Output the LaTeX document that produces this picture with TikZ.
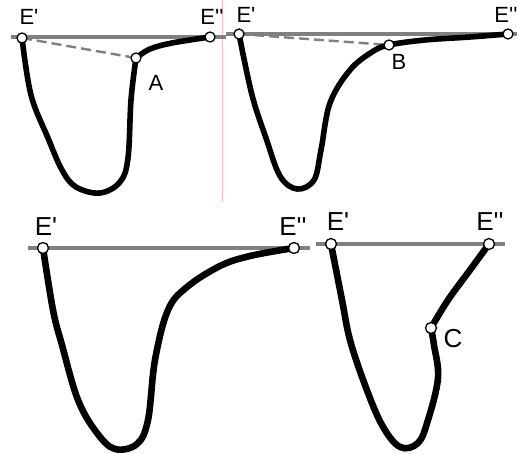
\documentclass[tikz,border=0pt]{standalone}
\usepackage{fontspec}
\newfontfamily\labfont{Liberation Sans}
\definecolor{axisgray}{RGB}{128,128,128}
\definecolor{guidepink}{RGB}{250,190,190}
\tikzset{
  axis/.style={draw=axisgray,line width=3.2pt},
  axisbig/.style={axis,line width=4pt},
  chord/.style={draw=axisgray,line width=2.4pt,dash pattern=on 10pt off 5pt},
  wave/.style={draw=black,line width=5.6pt,line cap=round,line join=round},
  wavebig/.style={wave,line width=6.6pt},
  pt/.style={circle,draw=black,fill=white,line width=1.3pt,inner sep=0pt,minimum size=10pt},
  lab/.style={font=\labfont\fontsize{22}{22}\selectfont,inner sep=0pt},
  labbig/.style={font=\labfont\fontsize{26}{26}\selectfont,inner sep=0pt}
}
\begin{document}
\begin{tikzpicture}[x=1pt,y=-1pt]
	\useasboundingbox (0,0) rectangle (517,454);
	% top left
	\coordinate (P1E1) at (22,38);
	\coordinate (P1E2) at (210,37);
	\coordinate (P1A) at (136,58);
	\draw[guidepink,line width=0.7pt] (222,0)--(222,202);
	\draw[axis] (11,37)--(226,37);
	\draw[chord] (P1E1)--(P1A);
	\draw[wave] plot[smooth,tension=0.6] coordinates {(P1E1) (31,95) (48,138) (62,170) (76,187) (100,193) (120,182) (128,158) (131,100) (P1A)};
	\draw[wave] plot[smooth,tension=0.6] coordinates {(P1A) (150,49) (172,43) (P1E2)};
	\foreach \P in {P1E1,P1E2,P1A} \node[pt] at (\P) {};
	\node[lab] (l1E1) at (29,17) {E'};
	\node[lab] (l1E2) at (212,17) {E''};
	\node[lab] (l1A) at (156,83) {A};
	% top right
	\coordinate (P2E1) at (239,34);
	\coordinate (P2E2) at (508,34);
	\coordinate (P2B) at (389,45);
	\draw[axis] (226,34)--(517,34);
	\draw[chord] (P2E1)--(P2B);
	\draw[wave] plot[smooth,tension=0.6] coordinates {(P2E1) (252,95) (266,138) (280,176) (297,189) (314,180) (321,150) (330,103) (350,70) (372,52) (P2B) (425,40) (470,37) (P2E2)};
	\foreach \P in {P2E1,P2E2,P2B} \node[pt] at (\P) {};
	\node[lab] (l2E1) at (246,15) {E'};
	\node[lab] (l2E2) at (506,15) {E''};
	\node[lab] (l2B) at (399,62) {B};
	% bottom left
	\coordinate (P3E1) at (43,248);
	\coordinate (P3E2) at (294,248);
	\draw[axisbig] (28,248)--(310,248);
	\draw[wavebig] plot[smooth,tension=0.6] coordinates {(P3E1) (53,310) (62,345) (78,400) (97,433) (115,449) (137,444) (148,420) (155,360) (168,310) (187,287) (220,266) (250,256) (P3E2)};
	\foreach \P in {P3E1,P3E2} \node[pt,minimum size=11pt] at (\P) {};
	\node[labbig] (l3E1) at (46,227) {E'};
	\node[labbig] (l3E2) at (293,227) {E''};
	% bottom right
	\coordinate (P4E1) at (331,244);
	\coordinate (P4E2) at (489,244);
	\coordinate (P4C) at (431,328);
	\draw[axisbig] (316,244)--(505,244);
	\draw[wavebig] plot[smooth,tension=0.6] coordinates {(P4E1) (342,300) (350,340) (365,385) (382,425) (400,447) (418,443) (428,420) (438,378) (434,345) (P4C)};
	\draw[wavebig] plot[smooth,tension=0.6] coordinates {(P4C) (448,300) (470,270) (P4E2)};
	\foreach \P in {P4E1,P4E2,P4C} \node[pt,minimum size=11pt] at (\P) {};
	\node[labbig] (l4E1) at (338,222) {E'};
	\node[labbig] (l4E2) at (490,222) {E''};
	\node[labbig] (l4C) at (453,339) {C};
\end{tikzpicture}
\end{document}
